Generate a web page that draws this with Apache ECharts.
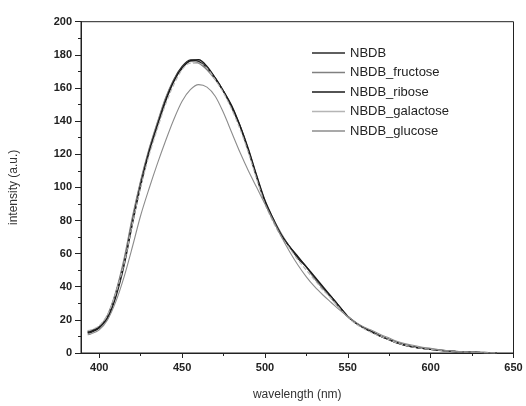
<!DOCTYPE html>
<html><head><meta charset="utf-8">
<script src="https://cdn.jsdelivr.net/npm/echarts@6/dist/echarts.min.js"></script>
<style>html,body{margin:0;padding:0;background:#fff}#c{width:526px;height:406px}</style>
</head><body><div id="c"></div>
<script>
const wavelength = [393,395,400,405,410,415,420,425,430,435,440,445,450,455,460,465,470,475,480,485,490,495,500,505,510,515,520,525,530,535,540,545,550,555,560,565,570,575,580,585,590,595,600,605,610,615,620,625,630,635,640];
const nbdb      = [12,12.5,15,22,36,55,80,103,122,138,153,165,173,177,176,172,166,158,148,137,122,106,91,80,71,64,57,52,45,39,34,28,22,18,15,12.5,10,8,6,4.5,3.5,2.8,2.2,1.7,1.2,0.9,0.7,0.5,0.3,0.2,0];
const fructose  = [13,13.5,16,23,37,57,82,104,123,139,154,165,172,176,175,171,165,158,149,137,123,107,92,81,72,64,58,52,45,39,33,27,22,18,15,12.5,10,8,6,4.7,3.6,2.9,2.2,1.7,1.3,1,0.7,0.5,0.3,0.2,0];
const ribose    = [12.5,13,15.5,21,34,53,78,101,121,137,152,164,172,176.5,177,173,166,158,149,137,123,107,92,81,71,64,58,52,46,40,34,28,22,18,15,12.5,10,8,6.2,4.7,3.6,2.8,2.2,1.7,1.2,0.9,0.7,0.5,0.3,0.2,0];
const galactose = [13.5,14,16.5,23,36,54,78,100,119,135,150,162,171,175,175,172,165,157,147,135,121,105,90,79,70,63,56,50,44,38,33,27,21.5,17.5,14.5,12,10,8,6,4.6,3.5,2.8,2.2,1.7,1.2,0.9,0.7,0.5,0.3,0.2,0];
const glucose   = [11,11.5,14,20,31,46,64,83,99,114,128,141,152,159,162,160.5,155,145,133,121,110,100,90,80,70,61,53,46,40,35,30.5,26,22,18.5,15.5,13.5,11,9,7,5.5,4.5,3.5,2.8,2,1.5,1,0.7,0.5,0.3,0.1,0];
const seriesNames = ['NBDB','NBDB_fructose','NBDB_ribose','NBDB_galactose','NBDB_glucose'];
const seriesData = [nbdb, fructose, ribose, galactose, glucose];
const xMajorTicks = [400,450,500,550,600,650];
const xMinorTicks = [425,475,525,575,625];

const colors = ['#2a2a2a','#808080','#1a1a1a','#b5b5b5','#8c8c8c'];
const widths = [1.3,1.2,1.5,1.1,1.1];
const types = ['solid','solid','solid','dashed','solid'];

const font = 'Liberation Sans, Arial, sans-serif';
const chart = echarts.init(document.getElementById('c'));
const series = seriesNames.map((n,i)=>({
  name:n, type:'line', xAxisIndex:0, yAxisIndex:0,
  data: wavelength.map((w,j)=>[w, seriesData[i][j]]),
  showSymbol:false, symbol:'none', smooth:0.3,
  lineStyle:{color:colors[i], width:widths[i], type:types[i]},
  itemStyle:{color:colors[i]}
}));
chart.setOption({
  animation:false,
  backgroundColor:'#fff',
  grid:{left:79.5, right:12.5, top:21.7, bottom:52, show:true, borderColor:'#222', borderWidth:1},
  legend:{
    orient:'vertical', left:312, top:46, padding:0, icon:'rect',
    itemWidth:33, itemHeight:1.4, itemGap:5.5,
    textStyle:{fontFamily:font, fontSize:13, color:'#222', lineHeight:14},
    data: seriesNames
  },
  xAxis:[{
    type:'value', min:389, max:650,
    name:'wavelength (nm)', nameLocation:'middle', nameGap:36,
    nameTextStyle:{fontFamily:font, fontSize:12, color:'#333'},
    axisLine:{lineStyle:{color:'#222', width:1}},
    axisTick:{show:true, inside:false, length:5, customValues:xMajorTicks, lineStyle:{color:'#222'}},
    axisLabel:{customValues:xMajorTicks, fontFamily:font, fontSize:11, fontWeight:'bold', color:'#222', margin:9},
    splitLine:{show:false}
  },{
    type:'value', min:389, max:650, gridIndex:0, position:'bottom',
    axisLine:{show:false},
    axisTick:{show:true, length:3, customValues:xMinorTicks, lineStyle:{color:'#222'}},
    axisLabel:{show:false, customValues:xMinorTicks},
    splitLine:{show:false}
  }],
  yAxis:{
    type:'value', min:0, max:200, interval:20,
    name:'intensity (a.u.)', nameLocation:'middle', nameGap:61,
    nameTextStyle:{fontFamily:font, fontSize:12, color:'#333'},
    axisLine:{show:true, lineStyle:{color:'#222', width:1}},
    axisTick:{show:true, inside:false, length:6, lineStyle:{color:'#222'}},
    minorTick:{show:true, splitNumber:2, length:3, lineStyle:{color:'#222'}},
    axisLabel:{fontFamily:font, fontSize:11, fontWeight:'bold', color:'#222', margin:9},
    splitLine:{show:false}
  },
  series: series
});
</script></body></html>
